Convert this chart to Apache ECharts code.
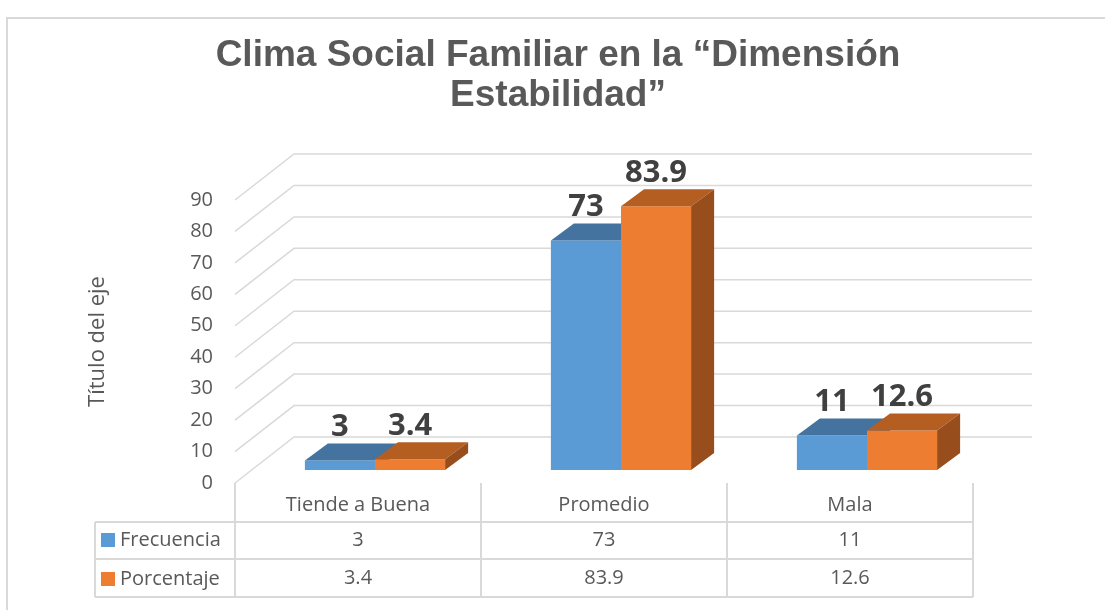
<!DOCTYPE html>
<html>
<head>
<meta charset="utf-8">
<script src="https://cdn.jsdelivr.net/npm/echarts@6/dist/echarts.min.js"></script>
<style>
  html, body { margin: 0; padding: 0; background: #fff; }
  #main { width: 1105px; height: 610px; }
</style>
</head>
<body>
<div id="main"></div>
<script>
// datos del grafico
var categories = ['Tiende a Buena', 'Promedio', 'Mala'];
var frecuencia = [3, 73, 11];
var porcentaje = [3.4, 83.9, 12.6];
var seriesNames = ['Frecuencia', 'Porcentaje'];
var yTicks = [0, 10, 20, 30, 40, 50, 60, 70, 80, 90];

var FONT = "'Open Sans', sans-serif";
var GRAY = '#595959';
var LINE = '#D9D9D9';

// profundidad del "3D": pared del fondo y caras de las barras
var WALL_DX = 59, WALL_DY = 46;
var BAR_OFF_X = 17, BAR_OFF_Y = 13;
var BAR_DX = 23, BAR_DY = 17;

var colors = [
    {front: '#5B9BD5', top: '#44739F', side: '#3A6793'},
    {front: '#ED7D31', top: '#B55E22', side: '#984D1C'}
];

function gridRender(params, api) {
    var cs = params.coordSys;
    var y = api.coord([0, api.value(1)])[1];
    return {
        type: 'polyline',
        shape: {points: [[cs.x, y], [cs.x + WALL_DX, y - WALL_DY], [cs.x + cs.width + WALL_DX, y - WALL_DY]]},
        style: {stroke: LINE, lineWidth: 1.5, fill: null}
    };
}

function barRender(s) {
    return function (params, api) {
        var i = api.value(0), v = api.value(1);
        var base = api.coord([i, 0]);
        var top = api.coord([i, v]);
        var band = api.size([1, 0])[0];
        var w = band * 0.285;
        var x0 = base[0] + (s === 0 ? -w : 0) + BAR_OFF_X;
        var yb = base[1] - BAR_OFF_Y;
        var yt = top[1] - BAR_OFF_Y;
        var c = colors[s];
        return {
            type: 'group',
            children: [
                {type: 'rect', shape: {x: x0, y: yt, width: w, height: yb - yt}, style: {fill: c.front}},
                {type: 'polygon', shape: {points: [[x0, yt], [x0 + w, yt], [x0 + w + BAR_DX, yt - BAR_DY], [x0 + BAR_DX, yt - BAR_DY]]}, style: {fill: c.top}},
                {type: 'polygon', shape: {points: [[x0 + w, yt], [x0 + w + BAR_DX, yt - BAR_DY], [x0 + w + BAR_DX, yb - BAR_DY], [x0 + w, yb]]}, style: {fill: c.side}},
                {type: 'text', x: x0 + w / 2, y: yt - BAR_DY - 1, style: {
                    text: String(v), align: 'center', verticalAlign: 'bottom',
                    fontFamily: FONT, fontWeight: 'bold', fontSize: 31, fill: '#404040'
                }}
            ]
        };
    };
}

// valores de la tabla de datos bajo el eje
function tableRender(params, api) {
    var i = api.value(0);
    var base = api.coord([i, 0]);
    return {
        type: 'group',
        children: [
            {type: 'text', x: base[0], y: base[1] + 57, style: {text: String(frecuencia[i]), align: 'center', verticalAlign: 'middle', fontFamily: FONT, fontSize: 20, fill: GRAY}},
            {type: 'text', x: base[0], y: base[1] + 95, style: {text: String(porcentaje[i]), align: 'center', verticalAlign: 'middle', fontFamily: FONT, fontSize: 20, fill: GRAY}}
        ]
    };
}

var chart = echarts.init(document.getElementById('main'));

var option = {
    animation: false,
    title: {
        text: 'Clima Social Familiar en la “Dimensión\nEstabilidad”',
        left: 558,
        textAlign: 'center',
        top: 36,
        padding: 0,
        textStyle: {
            fontFamily: "'Liberation Sans', Arial, sans-serif",
            fontWeight: 'bold',
            fontSize: 37,
            lineHeight: 40,
            color: GRAY
        }
    },
    legend: {
        data: seriesNames,
        orient: 'vertical',
        left: 101,
        top: 530,
        padding: 0,
        itemWidth: 14,
        itemHeight: 14,
        itemGap: 19,
        icon: 'rect',
        selectedMode: false,
        textStyle: {fontFamily: FONT, fontSize: 20, color: GRAY}
    },
    grid: {left: 235, right: 132, top: 200, bottom: 127},
    xAxis: {
        type: 'category',
        data: categories,
        axisLine: {show: false},
        axisTick: {show: true, length: 114, lineStyle: {color: LINE, width: 2}},
        axisLabel: {margin: 12, fontFamily: FONT, fontSize: 20, color: GRAY}
    },
    yAxis: {
        type: 'value',
        min: 0,
        max: 90,
        interval: 10,
        name: 'Título del eje',
        nameLocation: 'middle',
        nameRotate: 90,
        nameGap: 126,
        nameTextStyle: {fontFamily: FONT, fontSize: 22, color: GRAY},
        axisLine: {show: false},
        axisTick: {show: false},
        splitLine: {show: false},
        axisLabel: {margin: 22, fontFamily: FONT, fontSize: 20, color: GRAY}
    },
    series: [
        {
            name: 'grid3d',
            type: 'custom',
            renderItem: gridRender,
            data: yTicks.map(function (v) { return [0, v]; }),
            encode: {x: 0, y: 1},
            silent: true
        },
        {
            name: seriesNames[0],
            type: 'custom',
            renderItem: barRender(0),
            itemStyle: {color: colors[0].front},
            data: frecuencia.map(function (v, i) { return [i, v]; }),
            encode: {x: 0, y: 1}
        },
        {
            name: seriesNames[1],
            type: 'custom',
            renderItem: barRender(1),
            itemStyle: {color: colors[1].front},
            data: porcentaje.map(function (v, i) { return [i, v]; }),
            encode: {x: 0, y: 1}
        },
        {
            name: 'tabla',
            type: 'custom',
            renderItem: tableRender,
            data: categories.map(function (c, i) { return [i, 0]; }),
            encode: {x: 0, y: 1},
            silent: true
        }
    ],
    graphic: [
        // marco del grafico
        {type: 'rect', shape: {x: 7, y: 18, width: 1200, height: 700}, style: {fill: null, stroke: LINE, lineWidth: 2}, silent: true},
        // lineas de la tabla de datos
        {type: 'line', shape: {x1: 95, y1: 522, x2: 973, y2: 522}, style: {stroke: LINE, lineWidth: 2}},
        {type: 'line', shape: {x1: 95, y1: 559, x2: 973, y2: 559}, style: {stroke: LINE, lineWidth: 2}},
        {type: 'line', shape: {x1: 95, y1: 597, x2: 973, y2: 597}, style: {stroke: LINE, lineWidth: 2}},
        {type: 'line', shape: {x1: 95, y1: 522, x2: 95, y2: 597}, style: {stroke: LINE, lineWidth: 2}}
    ]
};

chart.setOption(option);
</script>
</body>
</html>
